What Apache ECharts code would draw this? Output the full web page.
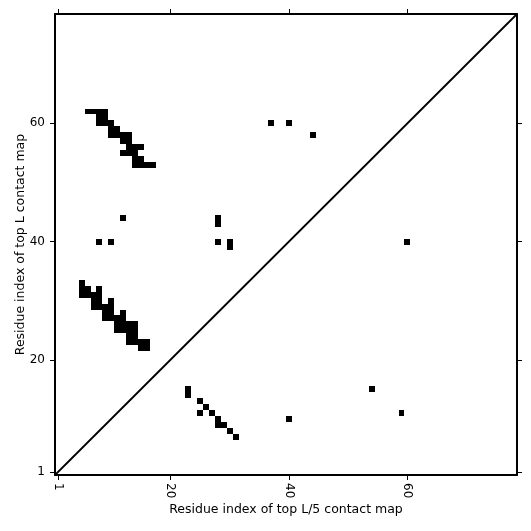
<!DOCTYPE html>
<html>
<head>
<meta charset="utf-8">
<script src="https://cdn.jsdelivr.net/npm/echarts@6/dist/echarts.min.js"></script>
<style>
  html, body { margin: 0; padding: 0; background: #fff; }
  #chart { width: 531px; height: 531px; }
</style>
</head>
<body>
<div id="chart"></div>
<script>
// contact map, one black cell per [i, j] residue pair
const seqLength = 78
const tickValues = [1, 20, 40, 60]

// upper-left band (rows 53-62)
const bandUpper = [
  [6, 62], [7, 62], [8, 62], [9, 62],
  [8, 61], [9, 61],
  [8, 60], [9, 60], [10, 60],
  [10, 59], [11, 59],
  [10, 58], [11, 58], [12, 58], [13, 58],
  [12, 57], [13, 57],
  [13, 56], [14, 56], [15, 56],
  [12, 55], [13, 55], [14, 55],
  [14, 54], [15, 54],
  [14, 53], [15, 53], [16, 53], [17, 53]
]

// middle-left band (rows 22-33)
const bandMiddle = [
  [5, 33],
  [5, 32], [6, 32], [8, 32],
  [5, 31], [6, 31], [7, 31], [8, 31],
  [7, 30], [8, 30], [10, 30],
  [7, 29], [8, 29], [9, 29], [10, 29],
  [9, 28], [10, 28], [12, 28],
  [9, 27], [10, 27], [11, 27], [12, 27],
  [11, 26], [12, 26], [13, 26], [14, 26],
  [11, 25], [12, 25], [13, 25], [14, 25],
  [13, 24], [14, 24],
  [13, 23], [14, 23], [15, 23], [16, 23],
  [15, 22], [16, 22]
]

// band under the diagonal (rows 7-15)
const bandLower = [
  [23, 15], [23, 14], [25, 13], [26, 12], [25, 11], [27, 11],
  [28, 10], [28, 9], [29, 9], [30, 8], [31, 7]
]

// isolated contacts
const singles = [
  [12, 44], [8, 40], [10, 40], [28, 44], [28, 43], [28, 40],
  [30, 40], [30, 39], [37, 60], [40, 60], [44, 58], [60, 40],
  [54, 15], [59, 11], [40, 10]
]

const cells = [...bandUpper, ...bandMiddle, ...bandLower, ...singles]
const axisMin = 0.5
const axisMax = seqLength + 0.5

const chart = echarts.init(document.getElementById('chart'))

// snap to whole pixels so neighbouring cells join without seams
function renderCell(params, api) {
  const x = api.value(0)
  const y = api.value(1)
  const p0 = api.coord([x - 0.5, y + 0.5]).map(Math.round)
  const p1 = api.coord([x + 0.5, y - 0.5]).map(Math.round)
  return {
    type: 'rect',
    shape: { x: p0[0], y: p0[1], width: p1[0] - p0[0], height: p1[1] - p0[1] },
    style: { fill: '#000' }
  }
}

const frameLine = { show: true, onZero: false, lineStyle: { color: '#000', width: 2 } }
const ticks = { show: true, inside: false, length: 5, customValues: tickValues, lineStyle: { color: '#000', width: 1 } }
const font = 'DejaVu Sans'

function xAxisDef(position, withLabels) {
  return {
    type: 'value',
    position,
    min: axisMin,
    max: axisMax,
    name: withLabels ? 'Residue index of top L/5 contact map' : '',
    nameLocation: 'middle',
    nameGap: 28,
    nameMoveOverlap: false,
    nameTextStyle: { fontFamily: font, fontSize: 12.5, color: '#000' },
    axisLine: frameLine,
    axisTick: ticks,
    axisLabel: {
      show: withLabels,
      customValues: tickValues,
      rotate: -90,
      margin: 8,
      fontFamily: font,
      fontSize: 12,
      color: '#000'
    },
    splitLine: { show: false }
  }
}

function yAxisDef(position, withLabels) {
  return {
    type: 'value',
    position,
    min: axisMin,
    max: axisMax,
    name: withLabels ? 'Residue index of top L contact map' : '',
    nameLocation: 'middle',
    nameGap: 28,
    nameMoveOverlap: false,
    nameTextStyle: { fontFamily: font, fontSize: 12.5, color: '#000' },
    axisLine: frameLine,
    axisTick: ticks,
    axisLabel: {
      show: withLabels,
      customValues: tickValues,
      margin: 10,
      fontFamily: font,
      fontSize: 12,
      color: '#000'
    },
    splitLine: { show: false }
  }
}

chart.setOption({
  animation: false,
  backgroundColor: '#fff',
  grid: { left: 55, right: 14, top: 14, bottom: 56, containLabel: false },
  xAxis: [xAxisDef('bottom', true), xAxisDef('top', false)],
  yAxis: [yAxisDef('left', true), yAxisDef('right', false)],
  series: [
    {
      type: 'custom',
      xAxisIndex: 0,
      yAxisIndex: 0,
      renderItem: renderCell,
      clip: true,
      data: cells
    },
    {
      type: 'line',
      xAxisIndex: 0,
      yAxisIndex: 0,
      data: [[axisMin, axisMin], [axisMax, axisMax]],
      symbol: 'none',
      lineStyle: { color: '#000', width: 1.8 },
      silent: true
    }
  ]
})
</script>
</body>
</html>
